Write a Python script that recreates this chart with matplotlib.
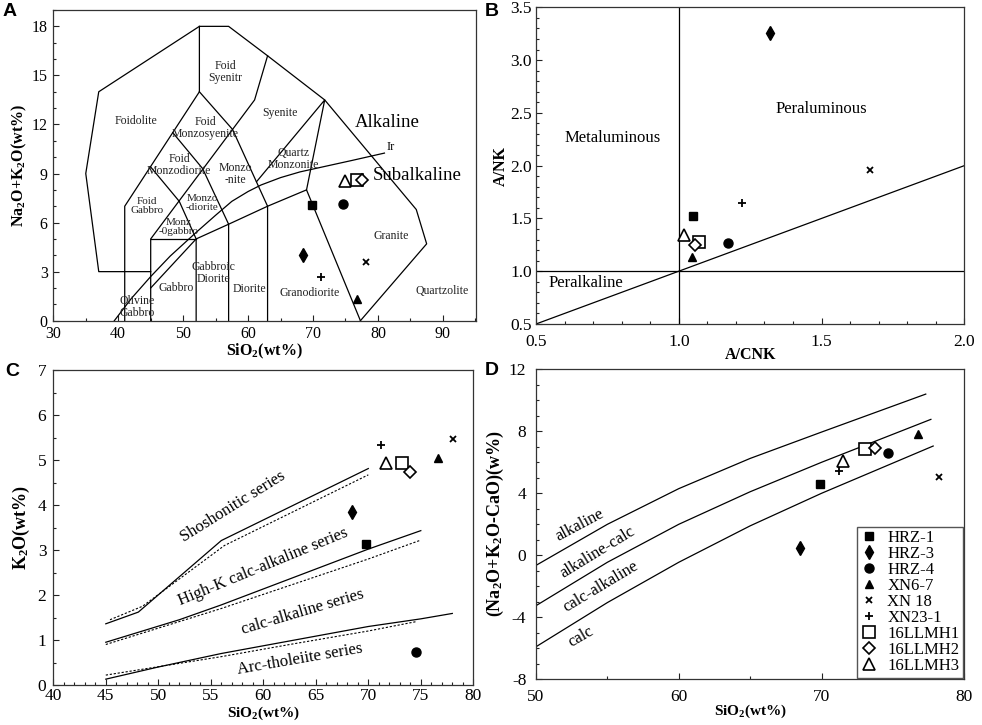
import matplotlib
matplotlib.use("Agg")
import matplotlib.pyplot as plt
from matplotlib.ticker import MultipleLocator

plt.rcParams['font.family'] = ['Liberation Serif', 'DejaVu Serif']
plt.rcParams['mathtext.default'] = 'regular'
plt.rcParams['axes.unicode_minus'] = False

# Samples
names = ["HRZ-1", "HRZ-3", "HRZ-4", "XN6-7", "XN 18", "XN23-1", "16LLMH1", "16LLMH2", "16LLMH3"]

# A: TAS
tas_sio2 = [69.8, 68.4, 74.6, 76.75, 78.2, 71.25, 76.7, 77.6, 74.9]
tas_alk = [7.09, 4.02, 7.15, 1.31, 3.61, 2.7, 8.62, 8.58, 8.55]

# B: A/CNK vs A/NK
acnk = [1.050, 1.318, 1.172, 1.045, 1.671, 1.220, 1.070, 1.057, 1.019]
ank = [1.526, 3.26, 1.264, 1.13, 1.958, 1.643, 1.28, 1.25, 1.343]

# C: SiO2 vs K2O
c_sio2 = [69.8, 68.4, 74.5, 76.68, 78.1, 71.2, 73.24, 73.97, 71.66]
c_k2o = [3.13, 3.85, 0.74, 5.04, 5.46, 5.33, 4.93, 4.73, 4.94]

# D: SiO2 vs MALI
d_sio2 = [69.9, 68.5, 74.63, 76.77, 78.2, 71.24, 73.06, 73.76, 71.47]
d_mali = [4.6, 0.45, 6.62, 7.83, 5.07, 5.46, 6.86, 6.9, 6.1]

# TAS field boundaries (Middlemost 1994)
tas_lines = [
    [(45, 3), (37, 3), (35, 9), (37, 14), (52.5, 18), (57, 18), (63, 16.2),
     (71.8, 13.5), (85.9, 6.8), (87.5, 4.7), (77.3, 0)],
    [(41, 0), (41, 7), (52.5, 14), (52.5, 18)],
    [(45, 0), (45, 5), (61, 13.5), (63, 16.2)],
    [(45, 5), (52, 5)],
    [(45, 2), (52, 5), (57, 5.9), (63, 7), (69, 8), (77.3, 0)],
    [(52, 0), (52, 5), (49.4, 7.3), (45, 9.4)],
    [(57, 0), (57, 5.9), (53, 9.3), (48.4, 11.5)],
    [(63, 0), (63, 7), (57.6, 11.7), (52.5, 14)],
    [(61.3, 8.5), (71.8, 13.5), (69, 8)],
]
ir_x = [39.4, 42, 45, 48, 52, 55, 57.5, 60, 62, 65, 68, 72, 76, 81]
ir_y = [0, 1.35, 2.7, 3.95, 5.4, 6.45, 7.3, 7.9, 8.3, 8.75, 9.1, 9.45, 9.8, 10.25]

# C: series boundaries (solid and dashed)
sho_x = [45, 48.1, 56, 70]
sho_y = [1.36, 1.62, 3.21, 4.81]
sho_dx = [45.4, 48.5, 56.3, 70]
sho_dy = [1.45, 1.75, 3.1, 4.67]
hk_x = [45, 52, 56, 63, 70, 75]
hk_y = [0.95, 1.45, 1.78, 2.4, 3.02, 3.43]
hk_dx = [45, 56, 63, 70, 75]
hk_dy = [0.9, 1.7, 2.25, 2.8, 3.22]
th_x = [45, 50, 56, 63, 70, 75, 78]
th_y = [0.13, 0.4, 0.7, 1.0, 1.3, 1.47, 1.59]
th_dx = [45, 56, 63, 70, 74.6]
th_dy = [0.22, 0.63, 0.92, 1.2, 1.41]

# D: MALI boundaries
mali_x1 = [50, 55, 60, 65, 70, 77.3]
mali_y1 = [-0.65, 2.0, 4.3, 6.25, 7.95, 10.4]
mali_x2 = [50, 55, 60, 65, 70, 77.66]
mali_y2 = [-3.25, -0.45, 2.0, 4.1, 6.0, 8.77]
mali_x3 = [50, 55, 60, 65, 70, 77.82]
mali_y3 = [-5.9, -3.05, -0.45, 1.9, 4.0, 7.05]

styles = [
    dict(marker='s', ms=6, mfc='k', mec='k'),
    dict(marker='d', ms=7.5, mfc='k', mec='k'),
    dict(marker='o', ms=6.5, mfc='k', mec='k'),
    dict(marker='^', ms=6, mfc='k', mec='k'),
    dict(marker='x', ms=4, mec='k', mew=1.3),
    dict(marker='+', ms=5.5, mec='k', mew=1.3),
    dict(marker='s', ms=8, mfc='white', mec='k', mew=1.2),
    dict(marker='D', ms=6.5, mfc='white', mec='k', mew=1.2),
    dict(marker='^', ms=8.5, mfc='white', mec='k', mew=1.2),
]

W, H = 982, 725
fig = plt.figure(figsize=(W / 100, H / 100), dpi=100)
axA = fig.add_axes([53.3 / W, (H - 320.7) / H, 422.7 / W, 310.7 / H])
axB = fig.add_axes([536 / W, (H - 324) / H, 428.3 / W, 316.7 / H])
axC = fig.add_axes([53.3 / W, (H - 685) / H, 420 / W, 315 / H])
axD = fig.add_axes([536 / W, (H - 679.3) / H, 428.3 / W, 310 / H])


def style(ax, size=11.5, pad=4, xpad=None):
    ax.tick_params(which='both', direction='in', top=False, right=False,
                   labelsize=size, pad=pad, width=0.8, color='#222222')
    ax.tick_params(which='major', length=4)
    ax.tick_params(which='minor', length=2.5)
    if xpad is not None:
        ax.tick_params(axis='x', which='both', pad=xpad)
    for s in ax.spines.values():
        s.set_linewidth(0.9)
        s.set_color('#333333')


def points(ax, xs, ys):
    hs = []
    for x, y, st in zip(xs, ys, styles):
        h, = ax.plot([x], [y], ls='none', zorder=5, **st)
        hs.append(h)
    return hs


lw = 0.9
lab = dict(fontsize=11.5, fontweight='bold')

# ---- A
for seg in tas_lines:
    axA.plot([p[0] for p in seg], [p[1] for p in seg], color='k', lw=lw)
axA.plot(ir_x, ir_y, color='k', lw=lw)
points(axA, tas_sio2, tas_alk)
fs = 8.5
for txt, x, y, s in [
    ("Foid\nSyenitr", 56.5, 15.2, fs), ("Foidolite", 42.7, 12.2, fs),
    ("Foid\nMonzosyenite", 53.4, 11.8, fs), ("Syenite", 64.9, 12.7, fs),
    ("Quartz\nMonzonite", 67, 9.9, fs), ("Foid\nMonzodiorite", 49.4, 9.5, fs),
    ("Monzo\n-nite", 58, 9.0, fs), ("Foid\nGabbro", 44.4, 7.0, 8),
    ("Monzo\n-diorite", 52.9, 7.2, 8), ("Monz\n-0gabbro", 49.3, 5.7, 8),
    ("Granite", 82, 5.15, fs), ("Gabbroic\nDiorite", 54.65, 2.9, fs),
    ("Gabbro", 48.9, 1.98, fs), ("Diorite", 60.2, 1.92, fs),
    ("Granodiorite", 69.55, 1.68, fs), ("Quartzolite", 89.85, 1.84, fs),
    ("Olivine\nGabbro", 42.85, 0.82, fs),
]:
    axA.text(x, y, txt, fontsize=s, ha='center', va='center', linespacing=1.0,
             color='#222222')
axA.text(81.4, 12.1, "Alkaline", fontsize=13.5, ha='center', va='center')
axA.text(86.0, 8.9, "Subalkaline", fontsize=13.5, ha='center', va='center')
axA.text(81.9, 10.6, "Ir", fontsize=9, ha='center', va='center')
axA.set_xlim(30, 95.1)
axA.set_ylim(0, 19)
axA.xaxis.set_major_locator(MultipleLocator(10))
axA.xaxis.set_minor_locator(MultipleLocator(5))
axA.yaxis.set_major_locator(MultipleLocator(3))
axA.yaxis.set_minor_locator(MultipleLocator(1))
style(axA)
axA.set_xlabel("SiO$_2$(wt%)", labelpad=0, **lab)
axA.set_ylabel("Na$_2$O+K$_2$O(wt%)", labelpad=2, **lab)

# ---- B
axB.axvline(1.0, color='k', lw=lw)
axB.axhline(1.0, color='k', lw=lw)
axB.plot([0.5, 2.0], [0.5, 2.0], color='k', lw=lw)
points(axB, acnk, ank)
axB.text(0.769, 2.26, "Metaluminous", fontsize=12, ha='center', va='center')
axB.text(1.498, 2.54, "Peraluminous", fontsize=12, ha='center', va='center')
axB.text(0.675, 0.89, "Peralkaline", fontsize=12, ha='center', va='center')
axB.set_xlim(0.5, 2.0)
axB.set_ylim(0.5, 3.5)
axB.xaxis.set_major_locator(MultipleLocator(0.5))
axB.xaxis.set_minor_locator(MultipleLocator(0.1))
axB.yaxis.set_major_locator(MultipleLocator(0.5))
axB.yaxis.set_minor_locator(MultipleLocator(0.1))
style(axB, size=12.5, pad=3, xpad=7)
axB.xaxis.set_major_formatter(lambda v, p: f"{v:.1f}")
axB.yaxis.set_major_formatter(lambda v, p: f"{v:.1f}")
axB.set_xlabel("A/CNK", labelpad=-2, **lab)
axB.set_ylabel("A/NK", labelpad=1, **lab)

# ---- C
dash = (0, (2, 1.6))
axC.plot(sho_x, sho_y, color='k', lw=lw)
axC.plot(sho_dx, sho_dy, color='k', lw=0.8, ls=dash)
axC.plot(hk_x, hk_y, color='k', lw=lw)
axC.plot(hk_dx, hk_dy, color='k', lw=0.8, ls=dash)
axC.plot(th_x, th_y, color='k', lw=lw)
axC.plot(th_dx, th_dy, color='k', lw=0.8, ls=dash)
points(axC, c_sio2, c_k2o)
for txt, x, y, a in [("Shoshonitic series", 57.1, 3.96, 32),
                     ("High-K calc-alkaline series", 60.0, 2.63, 22.4),
                     ("calc-alkaline series", 63.75, 1.63, 16.6),
                     ("Arc-tholeiite series", 63.5, 0.58, 9.8)]:
    axC.text(x, y, txt, fontsize=12, rotation=a, rotation_mode='anchor',
             ha='center', va='center')
axC.set_xlim(40, 80)
axC.set_ylim(0, 7)
axC.xaxis.set_major_locator(MultipleLocator(5))
axC.xaxis.set_minor_locator(MultipleLocator(1))
axC.yaxis.set_major_locator(MultipleLocator(1))
axC.yaxis.set_minor_locator(MultipleLocator(0.5))
style(axC, size=12.5, pad=5, xpad=2.5)
axC.set_xlabel("SiO$_2$(wt%)", labelpad=0, fontsize=11, fontweight='bold')
axC.set_ylabel("K$_2$O(wt%)", labelpad=4, fontsize=13, fontweight='bold')

# ---- D
axD.plot(mali_x1, mali_y1, color='k', lw=lw)
axD.plot(mali_x2, mali_y2, color='k', lw=lw)
axD.plot(mali_x3, mali_y3, color='k', lw=lw)
hs = points(axD, d_sio2, d_mali)
for txt, x, y, a in [("alkaline", 53.03, 1.95, 28),
                     ("alkaline-calc", 54.3, 0.17, 31.5),
                     ("calc-alkaline", 54.55, -2.03, 31),
                     ("calc", 53.15, -5.25, 30)]:
    axD.text(x, y, txt, fontsize=12, rotation=a, rotation_mode='anchor',
             ha='center', va='center')
axD.set_xlim(50, 80)
axD.set_ylim(-8, 12)
axD.xaxis.set_major_locator(MultipleLocator(10))
axD.xaxis.set_minor_locator(MultipleLocator(5))
axD.yaxis.set_major_locator(MultipleLocator(4))
axD.yaxis.set_minor_locator(MultipleLocator(1))
style(axD, size=12.5, pad=7, xpad=7)
axD.set_xlabel("SiO$_2$(wt%)", labelpad=-2, fontsize=11, fontweight='bold')
axD.set_ylabel("(Na$_2$O+K$_2$O-CaO)(w%)", labelpad=2, fontsize=13, fontweight='bold')
leg = axD.legend(hs, names, loc='lower right', fontsize=12, labelspacing=0.0,
                 handlelength=1.0, handletextpad=0.6, borderpad=0.2,
                 borderaxespad=0.1, fancybox=False, framealpha=1)
leg.get_frame().set_edgecolor('#555555')
leg.get_frame().set_linewidth(1.0)

# panel letters
for t, x, y in [("A", 10, 12), ("B", 492, 11), ("C", 12, 372), ("D", 492, 371)]:
    fig.text(x / W, 1 - y / H, t, fontsize=14, fontweight='bold',
             family='Liberation Sans', ha='center', va='center')

fig.savefig("out.png", dpi=100)
